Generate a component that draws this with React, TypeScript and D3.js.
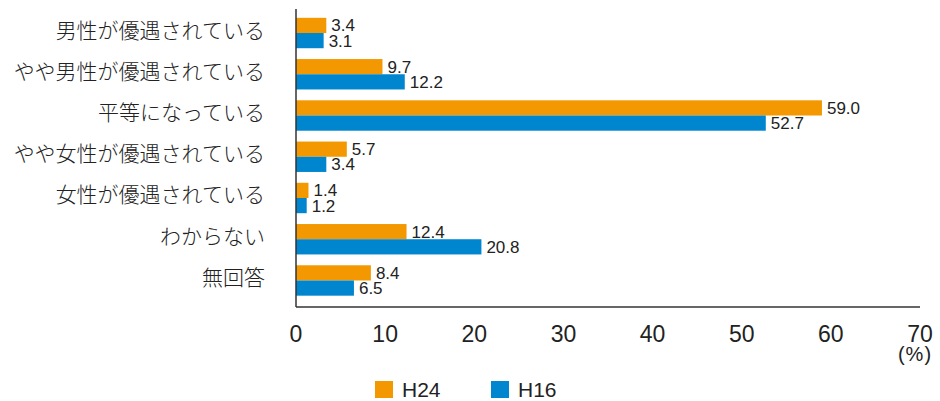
import React from "react";
import * as d3 from "d3";

const categories = [
  "男性が優遇されている",
  "やや男性が優遇されている",
  "平等になっている",
  "やや女性が優遇されている",
  "女性が優遇されている",
  "わからない",
  "無回答",
];
const seriesNames = ["H24", "H16"];
const h24 = [3.4, 9.7, 59.0, 5.7, 1.4, 12.4, 8.4];
const h16 = [3.1, 12.2, 52.7, 3.4, 1.2, 20.8, 6.5];
const xTicks = [0, 10, 20, 30, 40, 50, 60, 70];

const colors = ["#F39800", "#0085CF"];
const jpFont = "'Noto Sans CJK JP', 'Noto Sans', sans-serif";
const numFont = "'Liberation Sans', Arial, sans-serif";

const App = () => {
  const width = 940;
  const height = 401;
  const left = 296;
  const right = 920;
  const top = 9;
  const bottom = 307;

  const x = d3.scaleLinear().domain([0, 70]).range([left, right]);
  const y = d3.scaleBand().domain(categories).range([12.4, 301.1]).paddingInner(0).paddingOuter(0);
  const barH = 15.2;
  const series = [h24, h16];

  return (
    <svg
      width={width}
      height={height}
      style={{ position: "absolute", left: 0, top: 0, background: "#fff" }}
    >
      {categories.map((c, i) => {
        const cy = y(c)! + y.bandwidth() / 2;
        return (
          <g key={c}>
            <text
              x={265}
              y={cy + 4.5}
              textAnchor="end"
              fontFamily={jpFont}
              fontWeight={300}
              fontSize={21}
              fill="#222"
            >
              {c}
            </text>
            {series.map((s, j) => {
              const by = cy - barH + j * barH;
              return (
                <g key={j}>
                  <rect
                    x={x(0)}
                    y={by}
                    width={x(s[i]) - x(0)}
                    height={barH}
                    fill={colors[j]}
                  />
                  <text
                    x={x(s[i]) + 5}
                    y={by + barH / 2}
                    dy="0.35em"
                    fontFamily={numFont}
                    fontSize={17}
                    fill="#222"
                  >
                    {d3.format(".1f")(s[i])}
                  </text>
                </g>
              );
            })}
          </g>
        );
      })}
      <line x1={left} x2={left} y1={top} y2={bottom} stroke="#333" strokeWidth={1.5} />
      <line x1={left} x2={right} y1={bottom} y2={bottom} stroke="#333" strokeWidth={1.5} />
      {xTicks.map((t) => (
        <text
          key={t}
          x={x(t)}
          y={342}
          textAnchor="middle"
          fontFamily={numFont}
          fontSize={23}
          fill="#222"
        >
          {t}
        </text>
      ))}
      <text
        x={915}
        y={361}
        textAnchor="middle"
        fontFamily={numFont}
        fontSize={20}
        letterSpacing={1}
        fill="#222"
      >
        (%)
      </text>
      {seriesNames.map((n, j) => (
        <g key={n} transform={`translate(${375 + j * 116},381)`}>
          <rect x={0} y={0} width={18} height={17} fill={colors[j]} />
          <text x={27} y={16} fontFamily={numFont} fontSize={21} fill="#222">
            {n}
          </text>
        </g>
      ))}
    </svg>
  );
};

export default App;
